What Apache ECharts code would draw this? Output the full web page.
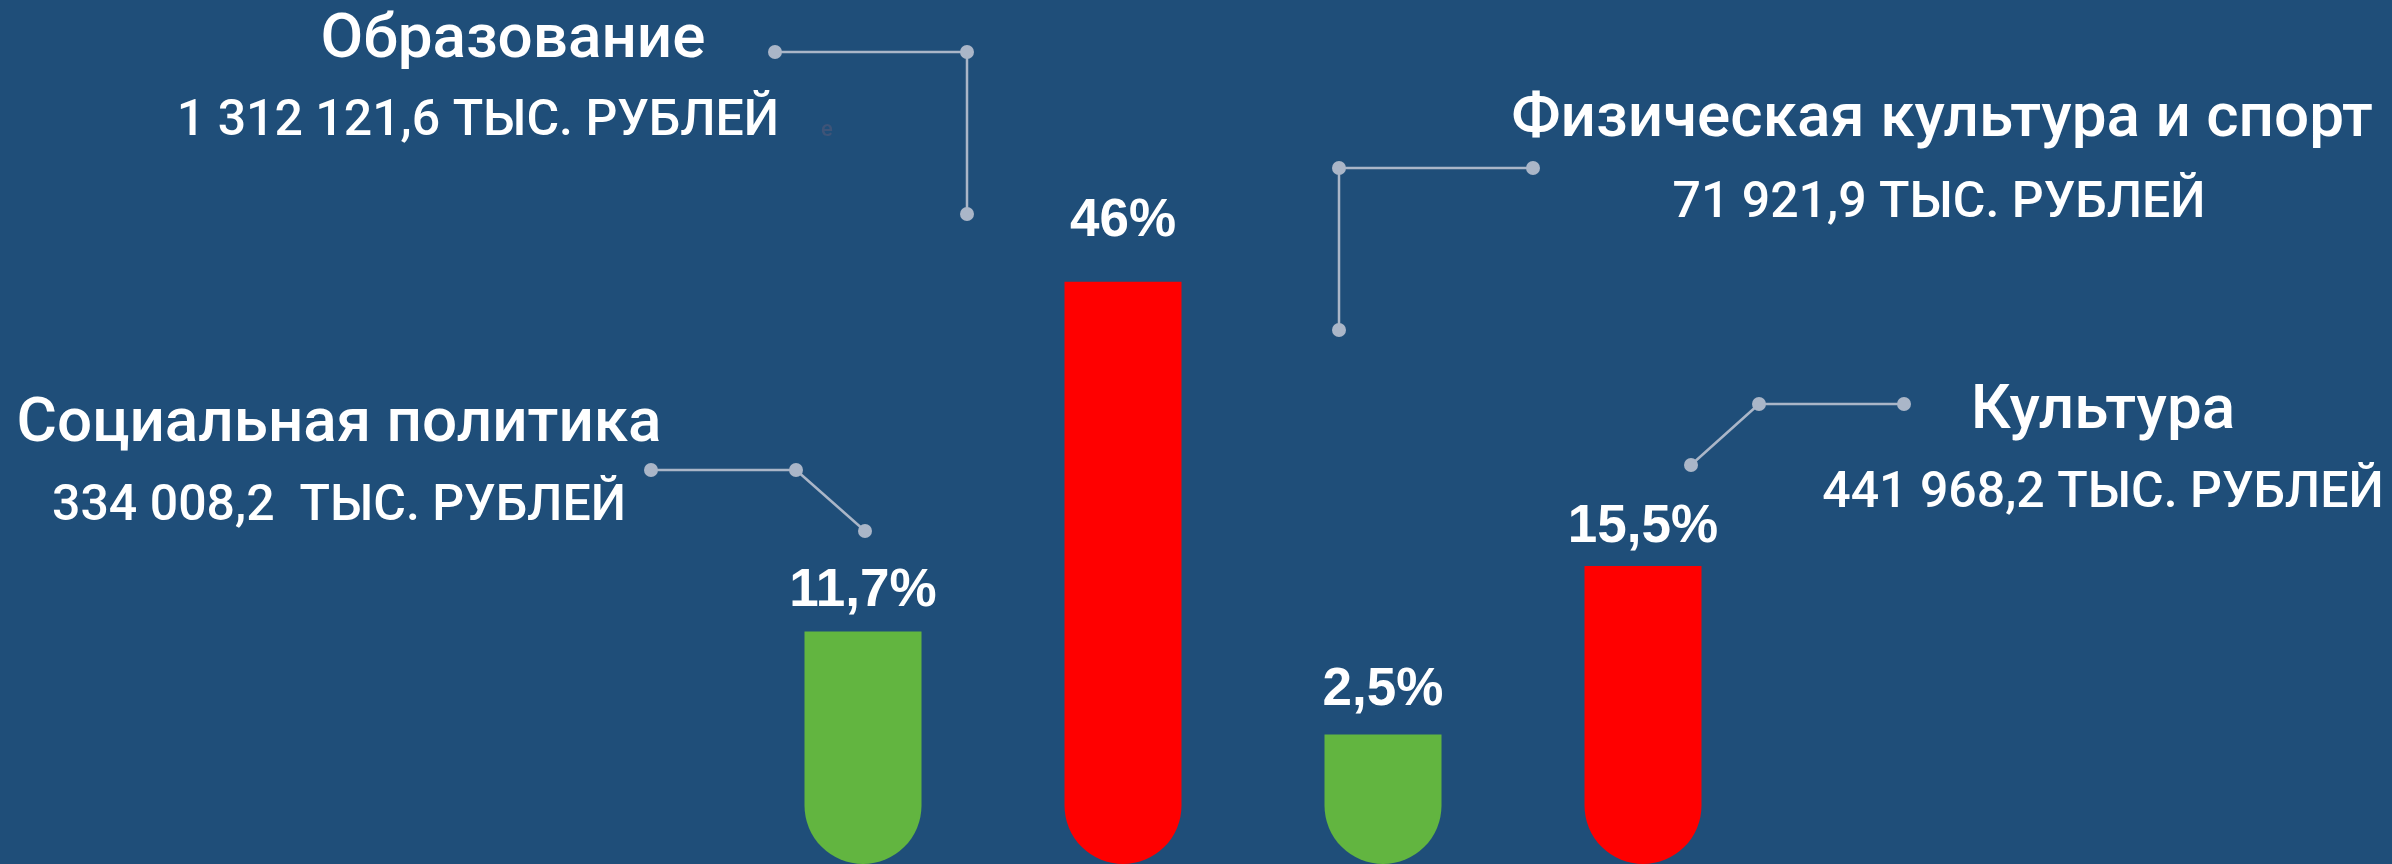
<!DOCTYPE html>
<html><head><meta charset="utf-8">
<script src="https://cdn.jsdelivr.net/npm/echarts@6/dist/echarts.min.js"></script>
<style>html,body{margin:0;padding:0;background:#1F4E79;overflow:hidden}#c{width:2392px;height:864px}</style>
</head><body><div id="c"></div>
<script>
// ---- data ----
const categories = ['Социальная политика', 'Образование', 'Физическая культура и спорт', 'Культура'];
const amounts = ['334 008,2  ТЫС. РУБЛЕЙ', '1 312 121,6 ТЫС. РУБЛЕЙ', '71 921,9 ТЫС. РУБЛЕЙ', '441 968,2 ТЫС. РУБЛЕЙ'];
const shares = [11.7, 46, 2.5, 15.5];          // % labels
const barLevels = [26.9, 67.4, 15.0, 34.5];    // drawn bar heights (0-100 scale, as in the picture)
const barColors = ['#62B540', '#FF0000', '#62B540', '#FF0000'];
const labelGaps = [14, 34, 18, 12];
// leader lines in picture units (x 0-2392, y 0-864 from top)
const leaderSocial = [[651, 470], [796, 470], [865, 531]];
const leaderEdu = [[775, 52], [967, 52], [967, 214]];
const leaderSport = [[1533, 168], [1339, 168], [1339, 330]];
const leaderCulture = [[1904, 404], [1759, 404], [1691, 465]];

const chart = echarts.init(document.getElementById('c'));
const titleFont = 'Roboto, "Noto Sans", sans-serif';
const leaderColor = '#AAB6C8';

function leader(d) {
  return {
    type: 'line', xAxisIndex: 1, yAxisIndex: 1, data: d,
    symbol: 'circle', symbolSize: 14, showSymbol: true, silent: true,
    itemStyle: { color: leaderColor },
    lineStyle: { color: leaderColor, width: 2.5 },
    animation: false, z: 3
  };
}
function txt(x, y, s, size, color) {
  return { type: 'text', x: x, y: y, style: { text: s, fill: color || '#FFFFFF', font: '500 ' + size + 'px ' + titleFont, textAlign: 'center', textVerticalAlign: 'middle' } };
}

chart.setOption({
  backgroundColor: '#1F4E79',
  animation: false,
  grid: [
    { left: 733, right: 619, top: 0, bottom: 0 },
    { left: 0, right: 0, top: 0, bottom: 0 }
  ],
  xAxis: [
    { type: 'category', data: categories, gridIndex: 0, show: false },
    { type: 'value', min: 0, max: 2392, gridIndex: 1, show: false }
  ],
  yAxis: [
    { type: 'value', min: 0, max: 100, gridIndex: 0, show: false },
    { type: 'value', min: 0, max: 864, inverse: true, gridIndex: 1, show: false }
  ],
  series: [
    {
      type: 'bar', xAxisIndex: 0, yAxisIndex: 0, barWidth: 117,
      data: barLevels.map((v, i) => ({ value: v, itemStyle: { color: barColors[i] }, label: { distance: labelGaps[i] } })),
      itemStyle: { borderRadius: [0, 0, 58.5, 58.5] },
      label: {
        show: true, position: 'top',
        formatter: p => String(shares[p.dataIndex]).replace('.', ',') + '%',
        color: '#FFFFFF', fontSize: 53, fontWeight: 'bold', fontFamily: '"Liberation Sans", Arial, sans-serif'
      }
    },
    leader(leaderSocial), leader(leaderEdu), leader(leaderSport), leader(leaderCulture)
  ],
  graphic: [
    txt(513, 41, categories[1], 62),
    txt(478, 122, amounts[1], 50),
    txt(827, 130, 'е', 22, '#3E5478'),
    txt(339, 425, categories[0], 62),
    txt(339, 507, amounts[0], 50),
    txt(1942, 120, categories[2], 62),
    txt(1939, 204, amounts[2], 50),
    txt(2103, 412, categories[3], 62),
    txt(2103, 494, amounts[3], 50)
  ]
});
</script>
</body></html>
